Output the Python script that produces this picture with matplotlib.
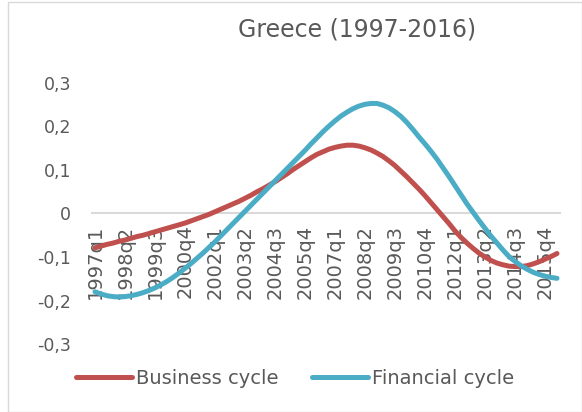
import matplotlib
matplotlib.use("Agg")
import matplotlib.pyplot as plt
from matplotlib.patches import Rectangle

title = "Greece (1997-2016)"
quarters = [f"{1997 + i // 4}q{i % 4 + 1}" for i in range(78)]
tick_step = 5

business_cycle = [
    -0.079, -0.075, -0.071, -0.068, -0.064, -0.061, -0.057, -0.053, -0.050, -0.046,
    -0.042, -0.038, -0.034, -0.030, -0.026, -0.022, -0.017, -0.012, -0.007, -0.002,
    0.004, 0.010, 0.016, 0.022, 0.028, 0.035, 0.042, 0.050, 0.057, 0.065,
    0.073, 0.082, 0.091, 0.101, 0.110, 0.119, 0.128, 0.136, 0.142, 0.148,
    0.152, 0.155, 0.157, 0.157, 0.155, 0.151, 0.146, 0.139, 0.131, 0.121,
    0.110, 0.097, 0.084, 0.070, 0.056, 0.041, 0.025, 0.009, -0.007, -0.023,
    -0.040, -0.055, -0.068, -0.080, -0.091, -0.100, -0.108, -0.114, -0.118, -0.121,
    -0.122, -0.122, -0.120, -0.116, -0.111, -0.105, -0.099, -0.092,
]

financial_cycle = [
    -0.180, -0.185, -0.189, -0.191, -0.192, -0.191, -0.189, -0.186, -0.182, -0.177,
    -0.171, -0.164, -0.156, -0.147, -0.137, -0.126, -0.115, -0.103, -0.091, -0.078,
    -0.065, -0.051, -0.037, -0.023, -0.009, 0.005, 0.019, 0.033, 0.047, 0.061,
    0.075, 0.089, 0.103, 0.117, 0.131, 0.145, 0.160, 0.174, 0.188, 0.201,
    0.213, 0.224, 0.233, 0.241, 0.247, 0.251, 0.253, 0.253, 0.249, 0.243,
    0.234, 0.223, 0.209, 0.193, 0.176, 0.160, 0.143, 0.125, 0.105, 0.085,
    0.064, 0.043, 0.022, 0.003, -0.016, -0.034, -0.052, -0.068, -0.084, -0.099,
    -0.110, -0.120, -0.128, -0.135, -0.140, -0.144, -0.147, -0.149,
]

y_ticks = [-0.3, -0.2, -0.1, 0.0, 0.1, 0.2, 0.3]
y_tick_labels = ["-0,3", "-0,2", "-0,1", "0", "0,1", "0,2", "0,3"]

RED = "#C0504D"
BLUE = "#4BACC6"
TXT = "#595959"

plt.rcParams['font.family'] = ['DejaVu Sans']

fig = plt.figure(figsize=(5.82, 4.12), dpi=100)
fig.patches.append(Rectangle((8 / 582, 0), 1 - 8 / 582, 1 - 2 / 412, transform=fig.transFigure,
                             fill=False, edgecolor="#D9D9D9", linewidth=1))
ax = fig.add_axes([92 / 582, 1 - 344 / 412, 468 / 582, 261 / 412])

for s in ["top", "right", "left"]:
    ax.spines[s].set_visible(False)
ax.spines["bottom"].set_position(("data", 0))
ax.spines["bottom"].set_color("#D9D9D9")
ax.spines["bottom"].set_linewidth(1.5)
ax.spines["bottom"].set_zorder(0)
ax.set_axisbelow(True)

x = list(range(len(quarters)))
ax.plot(x, business_cycle, color=RED, linewidth=3.6, solid_capstyle="round", label="Business cycle", zorder=3)
ax.plot(x, financial_cycle, color=BLUE, linewidth=3.6, solid_capstyle="round", label="Financial cycle", zorder=3)

ax.set_xlim(-0.5, len(quarters) - 0.5)
ax.set_ylim(-0.3, 0.3)
ax.set_yticks(y_ticks)
ax.set_yticklabels(y_tick_labels)
ticks = x[::tick_step]
ax.set_xticks(ticks)
ax.set_xticklabels([quarters[i] for i in ticks])
ax.tick_params(axis="x", length=0, pad=8, labelsize=14, labelcolor=TXT, labelrotation=90)
ax.tick_params(axis="y", length=0, pad=15, labelsize=12.5, labelcolor=TXT)
ax.patch.set_visible(False)

fig.text(357 / 582, 1 - 30 / 412, title, ha="center", va="center", fontsize=17, color=TXT)

fig.legend(loc="center", bbox_to_anchor=(295 / 582, 1 - 378 / 412), ncol=2, frameon=False,
           fontsize=14, labelcolor=TXT, handlelength=2.9, handletextpad=0.2, columnspacing=1.7)

fig.savefig("out.png", dpi=100)
